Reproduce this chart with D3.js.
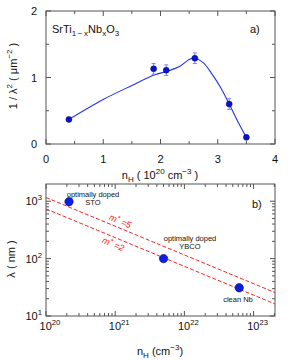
<!DOCTYPE html>
<html>
<head>
<meta charset="utf-8">
<script src="https://cdn.jsdelivr.net/npm/d3@7"></script>
<style>
body { margin: 0; background: #fff; }
svg text { font-family: "Liberation Sans", Arial, sans-serif; fill: #111; }
</style>
</head>
<body>
<svg id="fig" width="288" height="360"></svg>
<script>
"use strict";

// panel a) superfluid density vs Hall carrier density
const nA      = [0.4, 1.88, 2.1, 2.6, 3.2, 3.5];
const invLam2 = [0.37, 1.13, 1.11, 1.29, 0.60, 0.10];
const invErr  = [0, 0.08, 0.08, 0.08, 0.08, 0];
// guide-to-the-eye curve
const fitN = [0.4, 1.0, 1.5, 1.9, 2.1, 2.34, 2.5, 2.6, 2.75, 2.9, 3.05, 3.2, 3.35, 3.5];
const fitY = [0.37, 0.67, 0.88, 1.04, 1.09, 1.17, 1.27, 1.29, 1.22, 1.05, 0.85, 0.60, 0.34, 0.10];
const xTicksA = [0, 1, 2, 3, 4];
const yTicksA = [0, 1, 2];

// panel b) penetration depth vs carrier density
const nB     = [2.15e20, 5e21, 6.2e22];
const lamB   = [980, 100, 31];
const lineN  = [1e20, 2.04e23];
const lineM5 = [1160, 25.6];
const lineM2 = [735, 16.2];
const xTicksB = [20, 21, 22, 23];
const yTicksB = [1, 2, 3];

const svg = d3.select("#fig");
const frameColor = "#555";

function sup(sel, base, exp, size) {
	sel.append("tspan").text(base);
	sel.append("tspan").attr("dy", -size * 0.45).attr("font-size", size * 0.7).text(exp);
}

// ---------- panel a ----------
const xa = d3.scaleLinear().domain([0, 4]).range([46, 275]);
const ya = d3.scaleLinear().domain([0, 2]).range([144, 11]);
const ga = svg.append("g");

// ticks on all four sides, pointing inward
for (let v = 0; v <= 4; v += 0.5) {
	let len = Number.isInteger(v) ? 5 : 3;
	ga.append("line").attr("x1", xa(v)).attr("x2", xa(v)).attr("y1", ya(0)).attr("y2", ya(0) - len)
		.attr("stroke", frameColor);
	ga.append("line").attr("x1", xa(v)).attr("x2", xa(v)).attr("y1", ya(2)).attr("y2", ya(2) + len)
		.attr("stroke", frameColor);
}
for (let v = 0; v <= 2; v += 0.5) {
	let len = Number.isInteger(v) ? 5 : 3;
	ga.append("line").attr("x1", xa(0)).attr("x2", xa(0) + len).attr("y1", ya(v)).attr("y2", ya(v))
		.attr("stroke", frameColor);
	ga.append("line").attr("x1", xa(4)).attr("x2", xa(4) - len).attr("y1", ya(v)).attr("y2", ya(v))
		.attr("stroke", frameColor);
}
ga.append("rect").attr("x", xa(0)).attr("y", ya(2)).attr("width", xa(4) - xa(0)).attr("height", ya(0) - ya(2))
	.attr("fill", "none").attr("stroke", frameColor);

ga.selectAll(".xt").data(xTicksA).enter().append("text")
	.attr("x", d => xa(d)).attr("y", 163).attr("text-anchor", "middle").attr("font-size", 11).text(d => d);
ga.selectAll(".yt").data(yTicksA).enter().append("text")
	.attr("x", 37).attr("y", d => ya(d) + 4).attr("text-anchor", "end").attr("font-size", 11).text(d => d);

// fit curve
const fitLine = d3.line().x(d => xa(d[0])).y(d => ya(d[1])).curve(d3.curveCatmullRom.alpha(0.5));
ga.append("path").datum(d3.zip(fitN, fitY)).attr("d", fitLine)
	.attr("fill", "none").attr("stroke", "#2233ee").attr("stroke-width", 1.1);

// error bars
const ptsA = d3.zip(nA, invLam2, invErr);
ptsA.filter(d => d[2] > 0).forEach(d => {
	let x = xa(d[0]);
	ga.append("line").attr("x1", x).attr("x2", x).attr("y1", ya(d[1] - d[2])).attr("y2", ya(d[1] + d[2]))
		.attr("stroke", "#6677ff").attr("stroke-width", 0.9);
	[d[1] - d[2], d[1] + d[2]].forEach(e => {
		ga.append("line").attr("x1", x - 2).attr("x2", x + 2).attr("y1", ya(e)).attr("y2", ya(e))
			.attr("stroke", "#6677ff").attr("stroke-width", 0.9);
	});
});
ga.selectAll(".pa").data(ptsA).enter().append("circle")
	.attr("cx", d => xa(d[0])).attr("cy", d => ya(d[1])).attr("r", 3)
	.attr("fill", "#0a14c8").attr("stroke", "#000a80").attr("stroke-width", 0.5);

// labels
let t = ga.append("text").attr("x", 52).attr("y", 33).attr("font-size", 11);
t.append("tspan").text("SrTi");
t.append("tspan").attr("dy", 3).attr("font-size", 8).text("1\u2009\u2212\u2009x");
t.append("tspan").attr("dy", -3).text("Nb");
t.append("tspan").attr("dy", 3).attr("font-size", 8).text("x");
t.append("tspan").attr("dy", -3).text("O");
t.append("tspan").attr("dy", 3).attr("font-size", 8).text("3");
ga.append("text").attr("x", 250).attr("y", 33).attr("font-size", 11).text("a)");

t = ga.append("text").attr("x", 160).attr("y", 179).attr("text-anchor", "middle").attr("font-size", 11);
t.append("tspan").text("n");
t.append("tspan").attr("dy", 3).attr("font-size", 8).text("H");
t.append("tspan").attr("dy", -3).text(" ( 10");
t.append("tspan").attr("dy", -5).attr("font-size", 8).text("20");
t.append("tspan").attr("dy", 5).text(" cm");
t.append("tspan").attr("dy", -5).attr("font-size", 8).text("\u22123");
t.append("tspan").attr("dy", 5).text(" )");

t = ga.append("text").attr("transform", "translate(17,76) rotate(-90)").attr("text-anchor", "middle").attr("font-size", 11);
t.append("tspan").text("1 / \u03bb");
t.append("tspan").attr("dy", -5).attr("font-size", 8).text("2");
t.append("tspan").attr("dy", 5).text(" ( \u03bcm");
t.append("tspan").attr("dy", -5).attr("font-size", 8).text("\u22122");
t.append("tspan").attr("dy", 5).text(" )");

// ---------- panel b ----------
const xb = d3.scaleLog().domain([1e20, 2.04e23]).range([46, 275]);
const yb = d3.scaleLog().domain([10, Math.pow(10, 3.3)]).range([316, 184]);
const gb = svg.append("g");

const [bx0, bx1] = xb.range();
const [by0, by1] = yb.range();
xb.ticks().forEach(v => {
	let major = Math.abs(Math.log10(v) - Math.round(Math.log10(v))) < 1e-9;
	let len = major ? 5 : 3;
	gb.append("line").attr("x1", xb(v)).attr("x2", xb(v)).attr("y1", by0).attr("y2", by0 - len).attr("stroke", frameColor);
	gb.append("line").attr("x1", xb(v)).attr("x2", xb(v)).attr("y1", by1).attr("y2", by1 + len).attr("stroke", frameColor);
});
yb.ticks().forEach(v => {
	let major = Math.abs(Math.log10(v) - Math.round(Math.log10(v))) < 1e-9;
	let len = major ? 5 : 3;
	gb.append("line").attr("x1", bx0).attr("x2", bx0 + len).attr("y1", yb(v)).attr("y2", yb(v)).attr("stroke", frameColor);
	gb.append("line").attr("x1", bx1).attr("x2", bx1 - len).attr("y1", yb(v)).attr("y2", yb(v)).attr("stroke", frameColor);
});
gb.append("rect").attr("x", bx0).attr("y", by1).attr("width", bx1 - bx0).attr("height", by0 - by1)
	.attr("fill", "none").attr("stroke", frameColor);

xTicksB.forEach(e => {
	let tt = gb.append("text").attr("x", xb(Math.pow(10, e)) + 4).attr("y", 330).attr("text-anchor", "middle").attr("font-size", 11);
	sup(tt, "10", e, 11);
});
yTicksB.forEach(e => {
	let tt = gb.append("text").attr("x", 42).attr("y", yb(Math.pow(10, e)) + 4).attr("text-anchor", "end").attr("font-size", 11);
	sup(tt, "10", e, 11);
});

// m* lines
gb.append("defs").append("clipPath").attr("id", "clipb").append("rect")
	.attr("x", bx0).attr("y", by1).attr("width", bx1 - bx0).attr("height", by0 - by1);
const lineB = d3.line().x(d => xb(d[0])).y(d => yb(d[1]));
[lineM5, lineM2].forEach(l => {
	gb.append("path").datum(d3.zip(lineN, l)).attr("d", lineB).attr("clip-path", "url(#clipb)")
		.attr("fill", "none").attr("stroke", "#ff2020").attr("stroke-width", 1).attr("stroke-dasharray", "4,2");
});
const ang = Math.atan2(yb(lineM5[1]) - yb(lineM5[0]), xb(lineN[1]) - xb(lineN[0])) * 180 / Math.PI;
[["5", 119, 224], ["2", 112, 247]].forEach(m => {
	let tt = gb.append("text").attr("transform", `translate(${m[1]},${m[2]}) rotate(${ang})`)
		.attr("text-anchor", "middle").attr("font-size", 9).attr("font-style", "italic").style("fill", "#ff2020");
	tt.append("tspan").text("m");
	tt.append("tspan").attr("dy", -3).attr("font-size", 7).text("*");
	tt.append("tspan").attr("dy", 3).text(" =" + m[0]);
});

gb.selectAll(".pb").data(d3.zip(nB, lamB)).enter().append("circle")
	.attr("cx", d => xb(d[0])).attr("cy", d => yb(d[1])).attr("r", 4.2)
	.attr("fill", "#0a1ee6").attr("stroke", "#000a70").attr("stroke-width", 0.6);

const notes = [["optimally doped", 93, 197], ["STO", 93, 205], ["optimally doped", 190, 241],
	["YBCO", 190, 249], ["clean Nb", 238, 302]];
notes.forEach(n => {
	gb.append("text").attr("x", n[1]).attr("y", n[2]).attr("text-anchor", "middle").attr("font-size", 7.5).text(n[0]);
});
gb.append("text").attr("x", 252).attr("y", 208).attr("font-size", 11).text("b)");

t = gb.append("text").attr("x", 160).attr("y", 355).attr("text-anchor", "middle").attr("font-size", 11);
t.append("tspan").text("n");
t.append("tspan").attr("dy", 3).attr("font-size", 8).text("H");
t.append("tspan").attr("dy", -3).text(" (cm");
t.append("tspan").attr("dy", -5).attr("font-size", 8).text("\u22123");
t.append("tspan").attr("dy", 5).text(")");

gb.append("text").attr("transform", "translate(15,259) rotate(-90)").attr("text-anchor", "middle")
	.attr("font-size", 11).text("\u03bb ( nm )");
</script>
</body>
</html>
